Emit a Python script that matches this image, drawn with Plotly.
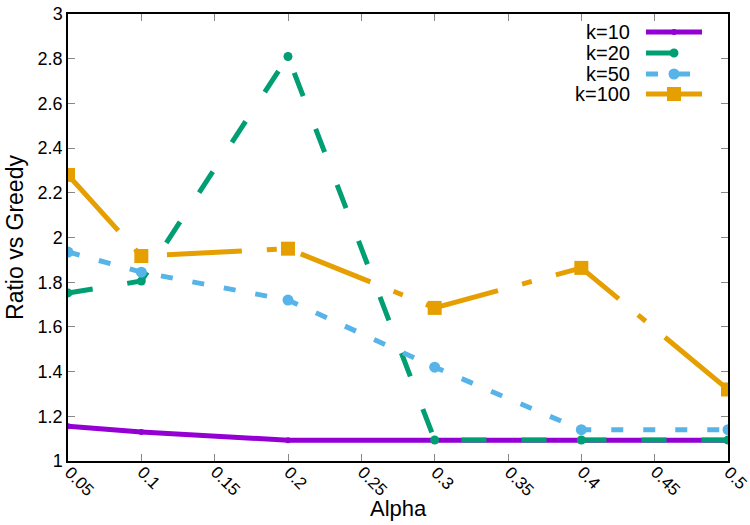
import plotly.graph_objects as go

alpha = [0.05, 0.1, 0.2, 0.3, 0.4, 0.5]
k10 = [1.155, 1.13, 1.093, 1.093, 1.093, 1.093]
k20 = [1.752, 1.805, 2.81, 1.094, 1.094, 1.094]
k50 = [1.935, 1.845, 1.72, 1.42, 1.14, 1.14]
k100 = [2.28, 1.917, 1.95, 1.685, 1.864, 1.32]

names = ["k=10", "k=20", "k=50", "k=100"]
colors = ["#9400D3", "#009E73", "#56B4E9", "#E69F00"]
dashes = ["solid", "25px,35px", "12px,20px", "75px,25px,10px,25px"]
symbols = ["circle", "circle", "circle", "square"]
msizes = [6, 9, 11, 14]
series = [k10, k20, k50, k100]

xticks = [0.05, 0.1, 0.15, 0.2, 0.25, 0.3, 0.35, 0.4, 0.45, 0.5]
xticklabels = ["0.05", "0.1", "0.15", "0.2", "0.25", "0.3", "0.35", "0.4", "0.45", "0.5"]
yticks = [1, 1.2, 1.4, 1.6, 1.8, 2, 2.2, 2.4, 2.6, 2.8, 3]
yticklabels = ["1", "1.2", "1.4", "1.6", "1.8", "2", "2.2", "2.4", "2.6", "2.8", "3"]

fig = go.Figure()
for n, c, d, s, ms, ys in zip(names, colors, dashes, symbols, msizes, series):
    fig.add_trace(go.Scatter(
        x=alpha, y=ys, name=n, mode="lines+markers",
        line=dict(color=c, width=5, dash=d),
        marker=dict(color=c, symbol=s, size=ms),
        showlegend=False,
    ))

FONT = "Liberation Sans, Arial, sans-serif"
W, H = 750, 525
L, R, T, B = 68, 728, 14, 461

def px(x):
    return (x - L) / (R - L)

def py(y):
    return (B - y) / (B - T)

shapes = []
annotations = []
legend_y = [32, 53, 74, 94]
for i, (n, c, d, s, ms) in enumerate(zip(names, colors, dashes, symbols, msizes)):
    yy = py(legend_y[i])
    if i == 2:
        shapes.append(dict(type="line", xref="paper", yref="paper",
                           x0=px(646), x1=px(658), y0=yy, y1=yy,
                           line=dict(color=c, width=5)))
        shapes.append(dict(type="line", xref="paper", yref="paper",
                           x0=px(669), x1=px(690), y0=yy, y1=yy,
                           line=dict(color=c, width=5)))
    elif i == 1:
        shapes.append(dict(type="line", xref="paper", yref="paper",
                           x0=px(646), x1=px(675), y0=yy, y1=yy,
                           line=dict(color=c, width=5)))
    else:
        shapes.append(dict(type="line", xref="paper", yref="paper",
                           x0=px(646), x1=px(702), y0=yy, y1=yy,
                           line=dict(color=c, width=5)))
    r = ms / 2
    shapes.append(dict(type="circle" if s == "circle" else "rect",
                       xref="paper", yref="paper",
                       x0=px(674 - r), x1=px(674 + r),
                       y0=py(legend_y[i] + r), y1=py(legend_y[i] - r),
                       fillcolor=c, line=dict(color=c, width=0)))
    annotations.append(dict(text=n, xref="paper", yref="paper",
                            x=px(632), y=yy, xanchor="right", yanchor="middle",
                            showarrow=False, font=dict(family=FONT, size=20, color="black")))

# rotated x tick labels (gnuplot style: start at tick, run down-right)
for tv, tl in zip(xticks, xticklabels):
    annotations.append(dict(text=tl, xref="x", yref="paper", x=tv, y=py(471),
                            xanchor="left", yanchor="top", xshift=-10, yshift=11,
                            textangle=45, showarrow=False,
                            font=dict(family=FONT, size=17, color="black")))

annotations.append(dict(text="Alpha", xref="paper", yref="paper",
                        x=px(398), y=py(508), xanchor="center", yanchor="middle",
                        showarrow=False, font=dict(family=FONT, size=22, color="black")))

fig.update_layout(
    width=W, height=H,
    margin=dict(l=L, r=W - R, t=T, b=H - B),
    paper_bgcolor="white", plot_bgcolor="white",
    font=dict(family=FONT, size=18, color="black"),
    shapes=shapes, annotations=annotations,
    xaxis=dict(range=[0.05, 0.5], tickmode="array",
               tickvals=xticks, ticktext=xticklabels, automargin=False,
               showticklabels=False,
               ticks="inside", ticklen=7, tickcolor="#888",
               showline=True, linecolor="black", linewidth=1.5, mirror="ticks",
               showgrid=False, zeroline=False),
    yaxis=dict(range=[1, 3], tickmode="array",
               tickvals=yticks, ticktext=yticklabels, automargin=False,
               ticks="inside", ticklen=7, tickcolor="#888",
               showline=True, linecolor="black", linewidth=1.5, mirror="ticks",
               showgrid=False, zeroline=False,
               title=dict(text="Ratio vs Greedy", font=dict(size=23), standoff=8)),
)

fig.write_html("out.html")
